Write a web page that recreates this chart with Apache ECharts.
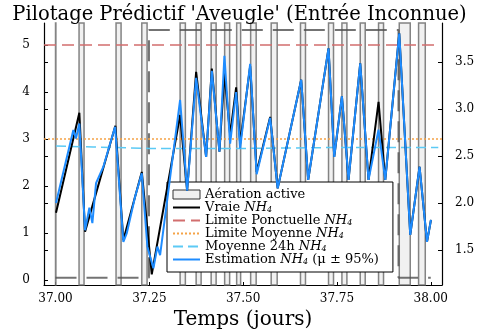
<!DOCTYPE html>
<html>
<head>
<meta charset="utf-8">
<script src="https://cdn.jsdelivr.net/npm/echarts@6/dist/echarts.min.js"></script>
<style>
html, body { margin: 0; padding: 0; background: #fff; }
#main { width: 479px; height: 329px; }
</style>
</head>
<body>
<div id="main"></div>
<script>
// --- data ----------------------------------------------------------
// true NH4 (vertices of the piecewise curve), time in days
var trueT = [37.0013, 37.0635, 37.0787, 37.1595, 37.1808, 37.2299, 37.2565, 37.3320, 37.3507, 37.3747,
             37.4013, 37.4165, 37.4368, 37.4501, 37.4653, 37.4813, 37.4920, 37.5187, 37.5360, 37.5720,
             37.5920, 37.6547, 37.6733, 37.7275, 37.7427, 37.7632, 37.7808, 37.8120, 37.8341, 37.8608,
             37.8787, 37.9160, 37.9453, 37.9701, 37.9899, 38.0005];
var trueV = [1.43, 3.56, 1.03, 3.28, 0.85, 2.30, 0.12, 3.51, 1.90, 4.43,
             2.62, 4.50, 2.73, 4.40, 3.09, 4.10, 2.90, 4.55, 2.30, 3.47,
             1.95, 4.26, 2.13, 4.93, 2.62, 3.91, 2.13, 4.61, 2.13, 3.79,
             2.13, 5.25, 0.96, 2.41, 0.81, 1.28];

// estimated NH4 and half width of its 95% band
var estT = [37.0013, 37.0475, 37.0544, 37.0635, 37.0787, 37.0902, 37.0982, 37.1080, 37.1275, 37.1587,
            37.1808, 37.1897, 37.2120, 37.2299, 37.2448, 37.2608, 37.2715, 37.2787, 37.3320, 37.3507,
            37.3747, 37.4013, 37.4165, 37.4368, 37.4501, 37.4653, 37.4813, 37.4920, 37.5187, 37.5360,
            37.5720, 37.5920, 37.6547, 37.6733, 37.7275, 37.7427, 37.7632, 37.7808, 37.8120, 37.8341,
            37.8608, 37.8787, 37.9160, 37.9453, 37.9701, 37.9899, 38.0005];
var estV = [1.64, 3.19, 3.01, 3.33, 1.06, 1.54, 1.21, 2.06, 2.41, 3.26,
            0.81, 0.99, 1.77, 2.27, 0.71, 0.25, 0.71, 0.53, 3.83, 1.90,
            4.30, 2.62, 4.45, 2.73, 4.77, 2.90, 4.00, 2.80, 4.60, 2.25,
            3.45, 1.95, 4.26, 2.13, 4.93, 2.62, 3.91, 2.13, 4.61, 2.13,
            3.20, 2.13, 5.25, 0.96, 2.41, 0.81, 1.28];
var estBand = [0.12, 0.12, 0.10, 0.10, 0.15, 0.10, 0.12, 0.10, 0.10, 0.10,
               0.15, 0.12, 0.10, 0.10, 0.12, 0.15, 0.12, 0.12, 0.10, 0.10,
               0.08, 0.08, 0.08, 0.08, 0.08, 0.08, 0.08, 0.08, 0.08, 0.08,
               0.08, 0.08, 0.08, 0.08, 0.08, 0.08, 0.08, 0.08, 0.08, 0.08,
               0.08, 0.08, 0.08, 0.12, 0.10, 0.12, 0.10];

// aeration active periods [start, end]
var aeration = [[37.0000, 37.0010], [37.0627, 37.0760], [37.1613, 37.1747], [37.2299, 37.2440],
                [37.3320, 37.3460], [37.3747, 37.3880], [37.4147, 37.4280], [37.4507, 37.4640],
                [37.4827, 37.4933], [37.5200, 37.5347], [37.5747, 37.5907], [37.6528, 37.6661],
                [37.7275, 37.7408], [37.7632, 37.7765], [37.8120, 37.8253], [37.8608, 37.8741],
                [37.9160, 37.9453], [37.9675, 37.9853]];

// 24h rolling mean
var avgT = [37.0013, 37.1000, 37.2500, 37.5000, 37.7500, 38.0200];
var avgV = [2.85, 2.83, 2.80, 2.80, 2.82, 2.82];

// hidden input signal on the right axis (step)
var ctrlT = [37.000, 37.249, 37.914, 38.000];
var ctrlV = [1.205, 3.84, 1.205, 1.205];

var limitPonct = 5.0;
var limitMoy = 3.0;

var xTicks = [37.00, 37.25, 37.50, 37.75, 38.00];
var yLeftTicks = [0, 1, 2, 3, 4, 5];
var yRightTicks = [1.5, 2.0, 2.5, 3.0, 3.5];

// axis ranges
var xMin = 36.9693, xMax = 38.0299;
var yMin = -0.106, yMax = 5.468;
var y2Min = 1.128, y2Max = 3.915;

// -------------------------------------------------------------------
function zip(a, b) { return a.map(function (v, i) { return [v, b[i]]; }); }

var font = 'DejaVu Serif';

// right-axis ticks are mirrored inside the left axis
var leftTickVals = yLeftTicks.concat(yRightTicks.map(function (v) {
    return yMin + (v - y2Min) / (y2Max - y2Min) * (yMax - yMin);
}));

var bandLow = estT.map(function (t, i) { return [t, estV[i] - estBand[i]]; });
var bandWidth = estT.map(function (t, i) { return [t, 2 * estBand[i]]; });

var chart = echarts.init(document.getElementById('main'), null, { renderer: 'canvas' });

var sub = function (name) {
    return name.replace('NH4', '{i|NH}{s|4}');
};
var noMark = { opacity: 0 };

var option = {
    animation: false,
    backgroundColor: '#fff',
    title: {
        text: "Pilotage Prédictif 'Aveugle' (Entrée Inconnue)",
        left: 'center',
        top: 0,
        textStyle: { fontFamily: font, fontWeight: 'normal', fontSize: 19.5, color: '#000' }
    },
    grid: { left: 44, right: 37, top: 23, bottom: 44, outerBoundsMode: 'none' },
    legend: {
        orient: 'vertical',
        left: 167,
        top: 182,
        padding: [6, 14, 6, 5],
        itemGap: 0,
        itemWidth: 27,
        itemHeight: 9,
        backgroundColor: '#fff',
        borderColor: '#000',
        borderWidth: 1,
        borderRadius: 0,
        formatter: sub,
        textStyle: {
            fontFamily: font, fontSize: 13, color: '#000', lineHeight: 12.4,
            rich: {
                i: { fontFamily: font, fontStyle: 'italic', fontSize: 13, lineHeight: 12.4 },
                s: { fontFamily: font, fontStyle: 'italic', fontSize: 8, lineHeight: 6, verticalAlign: 'bottom' }
            }
        },
        data: [
            { name: 'Aération active', icon: 'rect', itemStyle: { color: '#f0f0f0', borderColor: '#333', borderWidth: 1 } },
            { name: 'Vraie NH4', itemStyle: noMark },
            { name: 'Limite Ponctuelle NH4', itemStyle: noMark },
            { name: 'Limite Moyenne NH4', itemStyle: noMark },
            { name: 'Moyenne 24h NH4', itemStyle: noMark },
            { name: 'Estimation NH4 (μ ± 95%)', itemStyle: noMark }
        ]
    },
    xAxis: {
        type: 'value',
        min: xMin,
        max: xMax,
        name: 'Temps (jours)',
        nameLocation: 'middle',
        nameGap: 24,
        nameTextStyle: { fontFamily: font, fontSize: 20, color: '#000' },
        splitLine: { show: false },
        axisLine: { onZero: false, lineStyle: { color: '#000', width: 1.2 } },
        axisTick: { inside: true, length: 3, customValues: xTicks, lineStyle: { color: '#000' } },
        axisLabel: {
            customValues: xTicks, margin: 8,
            fontFamily: font, fontSize: 12, color: '#000',
            formatter: function (v) { return v.toFixed(2); }
        }
    },
    yAxis: [{
        type: 'value',
        min: yMin,
        max: yMax,
        splitLine: { show: false },
        axisLine: { show: true, onZero: false, lineStyle: { color: '#000', width: 1.2 } },
        axisTick: { inside: true, length: 4, customValues: leftTickVals, lineStyle: { color: '#000' } },
        axisLabel: { customValues: yLeftTicks, margin: 14, fontFamily: font, fontSize: 12, color: '#000' }
    }, {
        type: 'value',
        position: 'right',
        min: y2Min,
        max: y2Max,
        splitLine: { show: false },
        axisLine: { show: true, onZero: false, lineStyle: { color: '#000', width: 1.2 } },
        axisTick: { inside: true, length: 4, customValues: yRightTicks, lineStyle: { color: '#000' } },
        axisLabel: {
            customValues: yRightTicks, margin: 13, fontFamily: font, fontSize: 12, color: '#000',
            formatter: function (v) { return v.toFixed(1); }
        }
    }],
    series: [
        {
            name: 'Aération active',
            type: 'custom',
            data: aeration,
            encode: { x: [0, 1] },
            z: 1,
            renderItem: function (params, api) {
                var x0 = api.coord([api.value(0), 0])[0];
                var x1 = api.coord([api.value(1), 0])[0];
                var cs = params.coordSys;
                return {
                    type: 'rect',
                    shape: { x: x0, y: cs.y, width: x1 - x0, height: cs.height },
                    style: { fill: '#f1f1f1', stroke: 'rgba(110,110,110,0.85)', lineWidth: 1.5 }
                };
            }
        },
        {
            name: 'ctrl',
            type: 'line',
            yAxisIndex: 1,
            step: 'end',
            symbol: 'none',
            z: 3,
            data: zip(ctrlT, ctrlV),
            lineStyle: { color: 'rgba(80,80,80,0.8)', width: 2, type: [21, 10] }
        },
        {
            name: 'Limite Ponctuelle NH4',
            type: 'line',
            symbol: 'none',
            z: 3,
            data: [[xMin, limitPonct], [38.017, limitPonct]],
            itemStyle: { color: '#d26e6e' },
            lineStyle: { color: '#d26e6e', width: 1.5, type: [12, 6] }
        },
        {
            name: 'Limite Moyenne NH4',
            type: 'line',
            symbol: 'none',
            z: 3,
            data: [[xMin, limitMoy], [xMax, limitMoy]],
            itemStyle: { color: '#f5a347' },
            lineStyle: { color: '#f5a347', width: 1.5, type: [2, 2] }
        },
        {
            name: 'Moyenne 24h NH4',
            type: 'line',
            symbol: 'none',
            z: 3,
            data: zip(avgT, avgV),
            itemStyle: { color: '#5ccaf5' },
            lineStyle: { color: '#5ccaf5', width: 1.5, type: [10, 5] }
        },
        {
            name: 'band-low',
            type: 'line',
            symbol: 'none',
            stack: 'band',
            z: 4,
            data: bandLow,
            lineStyle: { opacity: 0 }
        },
        {
            name: 'band',
            type: 'line',
            symbol: 'none',
            stack: 'band',
            z: 4,
            data: bandWidth,
            lineStyle: { opacity: 0 },
            areaStyle: { color: 'rgba(100,170,255,0.35)' }
        },
        {
            name: 'Vraie NH4',
            type: 'line',
            symbol: 'none',
            z: 5,
            data: zip(trueT, trueV),
            itemStyle: { color: '#000' },
            lineStyle: { color: '#000', width: 2 }
        },
        {
            name: 'Estimation NH4 (μ ± 95%)',
            type: 'line',
            symbol: 'none',
            z: 6,
            data: zip(estT, estV),
            itemStyle: { color: '#1e8cff' },
            lineStyle: { color: '#1e8cff', width: 2 }
        }
    ]
};

chart.setOption(option);
</script>
</body>
</html>
